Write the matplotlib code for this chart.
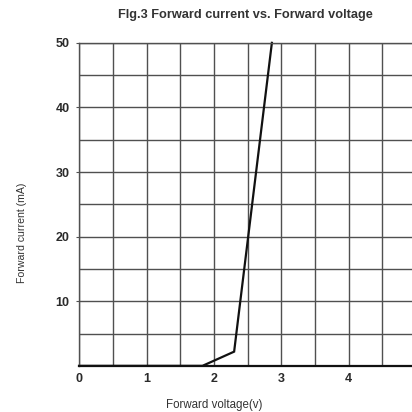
import matplotlib
matplotlib.use("Agg")
import matplotlib.pyplot as plt
from matplotlib.ticker import MultipleLocator

plt.rcParams.update({"font.family": ["Liberation Sans", "DejaVu Sans"]})

# forward voltage (V) vs forward current (mA)
voltage = [0.0, 1.83, 2.30, 2.86]
current = [0.0, 0.0, 2.2, 50.0]

x_ticks = [0, 1, 2, 3, 4, 5]
y_ticks = [10, 20, 30, 40, 50]

GRID = "#505050"
TXT = "#2a2a2a"

fig = plt.figure(figsize=(4.12, 4.12), dpi=100)
ax = fig.add_axes([0.192, 0.112, 0.818, 0.784])
ax.set_xlim(0, 5)
ax.set_ylim(0, 50)

ax.xaxis.set_minor_locator(MultipleLocator(0.5))
ax.yaxis.set_minor_locator(MultipleLocator(5))
ax.set_xticks(x_ticks)
ax.set_yticks(y_ticks)
ax.grid(True, which="both", color=GRID, lw=1.0)
ax.set_axisbelow(True)
for s in ax.spines.values():
    s.set_color(GRID)
    s.set_linewidth(1.0)
ax.spines["bottom"].set_color("#111111")
ax.spines["bottom"].set_linewidth(1.6)

ax.tick_params(which="both", length=0, pad=5, labelsize=9, colors=TXT)
ax.tick_params(axis="y", length=2, color=GRID, pad=5)
for lab in ax.get_xticklabels() + ax.get_yticklabels():
    lab.set_fontweight("bold")

ax.plot(voltage, current, color="#111111", lw=1.6, solid_joinstyle="miter", clip_on=False)

fig.text(0.595, 0.963, "Flg.3 Forward current vs. Forward voltage", ha="center", va="center",
         fontsize=9.2, fontweight="bold", color="#333333")
fig.text(0.52, 0.017, "Forward voltage(v)", ha="center", va="center",
         fontsize=8.3, color="#333333")
fig.text(0.053, 0.435, "Forward current (mA)", ha="center", va="center", rotation=90,
         fontsize=7.6, color="#333333")

fig.savefig("out.png", dpi=100)
